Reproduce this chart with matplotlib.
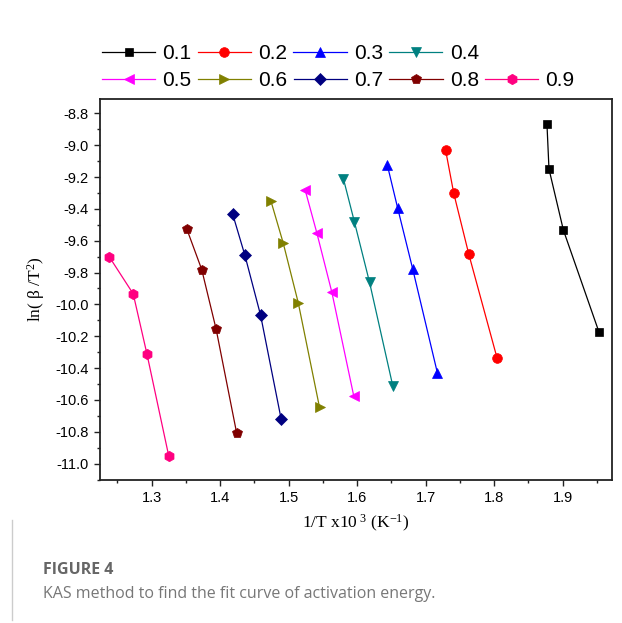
import matplotlib
matplotlib.use("Agg")
import matplotlib.pyplot as plt
from matplotlib.ticker import MultipleLocator, FormatStrFormatter
from matplotlib.lines import Line2D

plt.rcParams["mathtext.fontset"] = "custom"
plt.rcParams["mathtext.rm"] = "Liberation Serif"
plt.rcParams["mathtext.it"] = "Liberation Serif"

# conversion degree labels
labels = ["0.1", "0.2", "0.3", "0.4", "0.5", "0.6", "0.7", "0.8", "0.9"]

# 1/T x10^3 values for each conversion
x_01 = [1.877, 1.880, 1.901, 1.953]
x_02 = [1.729, 1.741, 1.763, 1.804]
x_03 = [1.644, 1.659, 1.681, 1.717]
x_04 = [1.580, 1.596, 1.618, 1.652]
x_05 = [1.524, 1.541, 1.563, 1.595]
x_06 = [1.474, 1.492, 1.514, 1.545]
x_07 = [1.418, 1.436, 1.459, 1.489]
x_08 = [1.351, 1.373, 1.394, 1.424]
x_09 = [1.238, 1.273, 1.293, 1.325]

# ln(beta/T^2) values
y_01 = [-8.864, -9.150, -9.533, -10.174]
y_02 = [-9.030, -9.303, -9.686, -10.334]
y_03 = [-9.125, -9.394, -9.777, -10.429]
y_04 = [-9.213, -9.483, -9.861, -10.513]
y_05 = [-9.281, -9.550, -9.924, -10.576]
y_06 = [-9.350, -9.615, -9.991, -10.647]
y_07 = [-9.430, -9.691, -10.069, -10.721]
y_08 = [-9.524, -9.781, -10.155, -10.808]
y_09 = [-9.701, -9.934, -10.311, -10.955]

xs = [x_01, x_02, x_03, x_04, x_05, x_06, x_07, x_08, x_09]
ys = [y_01, y_02, y_03, y_04, y_05, y_06, y_07, y_08, y_09]

colors = ["#000000", "#FF0000", "#0000FF", "#008080", "#FF00FF",
          "#808000", "#000080", "#800000", "#FF0080"]
markers = ["s", "o", "^", "v", "<", ">", "D", "p", "h"]
msizes = [6, 7, 7.5, 7.5, 7.5, 7.5, 6, 7.5, 7.5]

fig = plt.figure(figsize=(6.22, 6.23), dpi=100)
W, H = 622, 623
ax = fig.add_axes([100 / W, 1 - 479.5 / H, 512 / W, 380.5 / H])

handles = []
for x, y, c, m, ms in zip(xs, ys, colors, markers, msizes):
    ln, = ax.plot(x, y, color=c, marker=m, markersize=ms, linewidth=0.9,
                  markeredgewidth=0.5, markeredgecolor=c)
    handles.append(ln)

ax.set_xlim(1.2245, 1.972)
ax.set_ylim(-11.10, -8.71)

ax.xaxis.set_major_locator(MultipleLocator(0.1))
ax.xaxis.set_minor_locator(MultipleLocator(0.05))
ax.yaxis.set_major_locator(MultipleLocator(0.2))
ax.yaxis.set_minor_locator(MultipleLocator(0.1))
ax.xaxis.set_major_formatter(FormatStrFormatter("%.1f"))
ax.yaxis.set_major_formatter(FormatStrFormatter("%.1f"))

ax.tick_params(which="both", direction="out", top=False, right=False,
               width=1.0, colors="#222222", labelcolor="black")
ax.tick_params(which="major", length=4.5, labelsize=10.5)
ax.tick_params(which="minor", length=2.5)
for lab in ax.get_xticklabels() + ax.get_yticklabels():
    lab.set_family("Liberation Sans")
for s in ax.spines.values():
    s.set_linewidth(1.3)
    s.set_color("#222222")

ax.set_xlabel(r"1/T x10$^{\ 3}$ (K$^{\mathregular{-1}}$)", family="Liberation Serif",
              fontsize=12.5, labelpad=6)
ax.set_ylabel("ln( β /T$^{2}$)", family="Liberation Serif",
              fontsize=12.5, labelpad=6)

# legend: 4 entries on the first row, 5 on the second
leg_kw = dict(loc="upper left", frameon=False,
              prop={"family": "Liberation Sans", "size": 15},
              handlelength=2.55, handletextpad=0.35, columnspacing=0.3,
              borderpad=0, borderaxespad=0)
leg1 = fig.legend(handles[:4], labels[:4], ncol=4,
                  bbox_to_anchor=(102 / W, 1 - 44 / H), **leg_kw)
leg2 = fig.legend(handles[4:], labels[4:], ncol=5,
                  bbox_to_anchor=(102 / W, 1 - 71 / H), **leg_kw)

# caption
fig.text(43 / W, 1 - 570 / H, "FIGURE 4", fontsize=11.5, fontweight="bold",
         color="#666666", family="Open Sans", va="center")
fig.text(43 / W, 1 - 594 / H, "KAS method to find the fit curve of activation energy.",
         fontsize=11.5, color="#777777", family="Open Sans", va="center")
fig.add_artist(Line2D([12 / W, 12 / W], [1 - 520 / H, 1 - 620 / H],
                      color="#cccccc", linewidth=1.0))

fig.savefig("out.png", dpi=100)
